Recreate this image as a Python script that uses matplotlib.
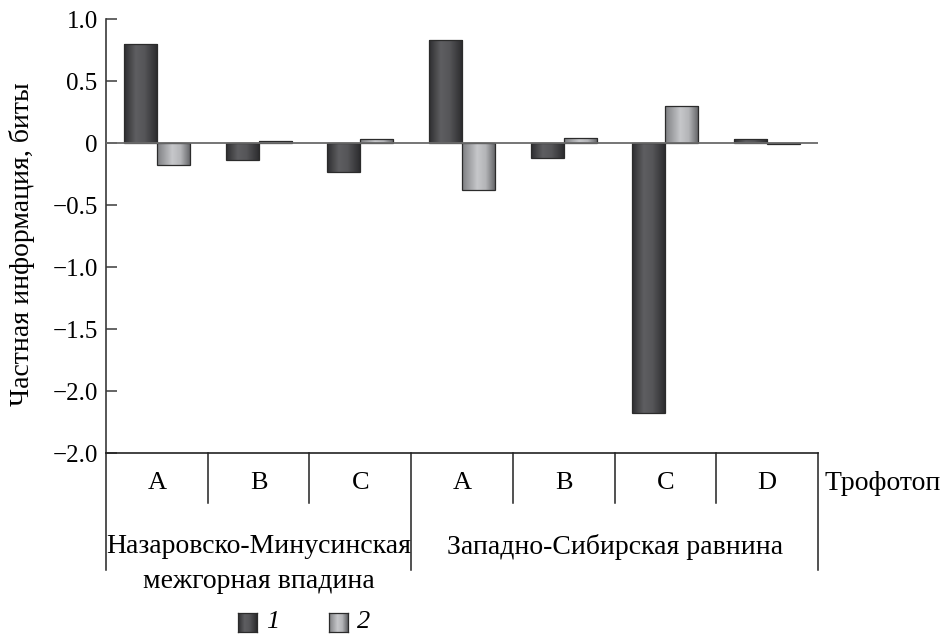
import numpy as np
import matplotlib
matplotlib.use("Agg")
import matplotlib.pyplot as plt
from matplotlib.colors import LinearSegmentedColormap
from matplotlib.transforms import blended_transform_factory

plt.rcParams['font.family'] = ['Liberation Serif', 'DejaVu Serif']
FS_TICK = 18
FS_CAT = 19
FS_TXT = 20

# Trophotope categories within each region
categories = ["A", "B", "C", "A", "B", "C", "D"]
regions = ["Назаровско-Минусинская\nмежгорная впадина", "Западно-Сибирская равнина"]
region_spans = [(0, 2), (3, 6)]

# Partial information, bits
series1 = [0.80, -0.14, -0.23, 0.83, -0.12, -2.18, 0.03]
series2 = [-0.18, 0.02, 0.03, -0.38, 0.04, 0.30, -0.01]
series_labels = ["1", "2"]

yticks = [1.0, 0.5, 0.0, -0.5, -1.0, -1.5, -2.0, -2.5]
ytick_labels = ["1.0", "0.5", "0", "−0.5", "−1.0", "−1.5", "−2.0", "−2.0"]

W, H = 944, 637
fig = plt.figure(figsize=(W / 100, H / 100), dpi=100)
ax_px = (106, 19, 818, 453)  # left, top, right, bottom in pixels
ax = fig.add_axes([ax_px[0] / W, 1 - ax_px[3] / H,
                   (ax_px[2] - ax_px[0]) / W, (ax_px[3] - ax_px[1]) / H])
ax_h = ax_px[3] - ax_px[1]

dark_cmap = LinearSegmentedColormap.from_list(
    "dark", [(0, "#2e2e30"), (0.35, "#5e5e61"), (0.6, "#565659"), (1, "#2a2a2c")])
light_cmap = LinearSegmentedColormap.from_list(
    "light", [(0, "#7d7e81"), (0.45, "#c6c7ca"), (0.7, "#b4b5b8"), (1, "#5f6063")])
grad = np.linspace(0, 1, 256).reshape(1, -1)

x = np.arange(len(categories))
bw = 0.325


def gradient_bars(xpos, vals, cmap):
    bars = ax.bar(xpos, vals, width=bw, color="none", edgecolor="#2b2b2b",
                  linewidth=0.9, zorder=3)
    for p in bars:
        x0, y0 = p.get_x(), p.get_y()
        w, h = p.get_width(), p.get_height()
        im = ax.imshow(grad, cmap=cmap, aspect="auto", zorder=2,
                       extent=(x0, x0 + w, min(y0, y0 + h), max(y0, y0 + h)))
        im.set_clip_path(p)
    return bars


gradient_bars(x - bw / 2, series1, dark_cmap)
gradient_bars(x + bw / 2, series2, light_cmap)

ax.set_xlim(-0.5, len(categories) - 0.5)
ax.set_ylim(-2.5, 1.0)
ax.axhline(0, color="#6a6a6a", linewidth=1.3, zorder=4)

for s in ["top", "right"]:
    ax.spines[s].set_visible(False)
ax.spines["left"].set_color("#3a3a3a")
ax.spines["left"].set_linewidth(1.2)
ax.spines["bottom"].set_color("#222222")
ax.spines["bottom"].set_linewidth(1.2)
ax.set_xticks([])
ax.set_yticks(yticks)
ax.set_yticklabels(ytick_labels)
ax.tick_params(axis="y", direction="in", length=8, width=1.1, color="#3a3a3a",
               labelsize=FS_TICK, pad=6)
fig.text(22 / W, 1 - 244 / H, "Частная информация, биты", rotation=90,
         ha="center", va="center", fontsize=FS_TXT)

# Category table below the axis
tr = blended_transform_factory(ax.transData, ax.transAxes)
def fy(px):
    return -px / ax_h

line_kw = dict(color="#222222", linewidth=1.1, clip_on=False, transform=tr)
ax.plot([-0.5, -0.5], [0, fy(117)], **line_kw)
ax.plot([6.5, 6.5], [0, fy(117)], **line_kw)
ax.plot([2.5, 2.5], [0, fy(117)], **line_kw)
for b in [0.5, 1.5, 3.5, 4.5, 5.5]:
    ax.plot([b, b], [0, fy(50)], **line_kw)

for i, c in enumerate(categories):
    ax.text(i, fy(30), c, transform=tr, ha="center", va="center", fontsize=FS_CAT)
ax.text(6.5, fy(30), " Трофотоп", transform=tr, ha="left", va="center",
        fontsize=FS_TXT)

for (a, b), name in zip(region_spans, regions):
    ax.text((a + b) / 2, fy(81), name, transform=tr, ha="center", va="top",
            fontsize=FS_TXT, linespacing=1.5)

# Legend swatches
legend_cmaps = [dark_cmap, light_cmap]
legend_x = [238, 329]
for lx, cm, lab in zip(legend_x, legend_cmaps, series_labels):
    sax = fig.add_axes([lx / W, 1 - 632 / H, 19 / W, 19 / H])
    sax.imshow(grad, cmap=cm, aspect="auto")
    sax.set_xticks([])
    sax.set_yticks([])
    for sp in sax.spines.values():
        sp.set_color("#2b2b2b")
        sp.set_linewidth(0.9)
    fig.text((lx + 28) / W, 1 - 622 / H, lab, ha="left", va="center",
             fontsize=FS_CAT, style="italic")

fig.savefig("out.png", dpi=100)
